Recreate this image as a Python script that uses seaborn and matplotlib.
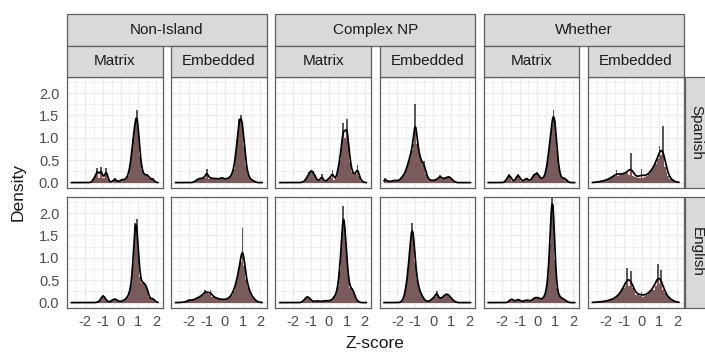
import numpy as np
import matplotlib
matplotlib.use("Agg")
import matplotlib.pyplot as plt
from matplotlib.patches import Rectangle
from matplotlib.ticker import FixedLocator, FixedFormatter
import seaborn as sns

# ---------------- data ----------------
languages = ["Spanish", "English"]
islands = ["Non-Island", "Complex NP", "Whether"]
positions = ["Matrix", "Embedded"]

x_ticks = [-2, -1, 0, 1, 2]
x_tick_labels = ["-2", "-1", "0", "1", "2"]
y_ticks = [0.0, 0.5, 1.0, 1.5, 2.0]
y_tick_labels = ["0.0", "0.5", "1.0", "1.5", "2.0"]

# centres of the histogram bins (z-score)
z_mid = [-2.7, -2.6, -2.5, -2.4, -2.3, -2.2, -2.1, -2.0, -1.9, -1.8,
         -1.7, -1.6, -1.5, -1.4, -1.3, -1.2, -1.1, -1.0, -0.9, -0.8,
         -0.7, -0.6, -0.5, -0.4, -0.3, -0.2, -0.1, 0.0, 0.1, 0.2,
         0.3, 0.4, 0.5, 0.6, 0.7, 0.8, 0.9, 1.0, 1.1, 1.2,
         1.3, 1.4, 1.5, 1.6, 1.7, 1.8, 1.9, 2.0, 2.1]
z_range = [-2.76, 2.10]

# bin heights (density)
es_nonisland_matrix = [0, 0, 0, 0, 0, 0, 0, 0, 0, 0,
                       0, 0.02, 0.10, 0.15, 0.36, 0.12, 0.38, 0.12, 0.12, 0.36,
                       0.08, 0.02, 0.0, 0.06, 0.10, 0.03, 0.02, 0.06, 0.08, 0.06,
                       0.10, 0.15, 0.30, 0.60, 1.05, 1.40, 1.75, 1.30, 0.65, 0.30,
                       0.20, 0.18, 0.20, 0.12, 0.08, 0.10, 0.03, 0, 0]
es_nonisland_embedded = [0, 0, 0, 0, 0, 0, 0, 0, 0, 0,
                         0.02, 0.05, 0.08, 0.10, 0.08, 0.12, 0.10, 0.30, 0.08, 0.12,
                         0.08, 0.10, 0.08, 0.10, 0.06, 0.12, 0.10, 0.08, 0.08, 0.10,
                         0.12, 0.18, 0.30, 0.55, 0.95, 1.40, 1.50, 1.35, 0.80, 0.40,
                         0.18, 0.10, 0.06, 0.04, 0.02, 0, 0, 0, 0]
es_complexnp_matrix = [0, 0, 0, 0, 0, 0, 0, 0, 0, 0,
                       0, 0, 0.01, 0.02, 0.08, 0.15, 0.25, 0.30, 0.28, 0.18,
                       0.08, 0.04, 0.06, 0.20, 0.04, 0.02, 0.06, 0.12, 0.10, 0.32,
                       0.06, 0.10, 0.30, 0.55, 0.85, 1.45, 1.10, 1.55, 0.90, 0.50,
                       0.25, 0.20, 0.20, 0.42, 0.15, 0.05, 0.02, 0, 0]
es_complexnp_embedded = [0.10, 0.05, 0.02, 0.02, 0.04, 0.05, 0.06, 0.03, 0.05, 0.10,
                         0.15, 0.20, 0.30, 0.45, 0.60, 0.75, 0.90, 1.80, 0.90, 0.70,
                         0.55, 0.40, 0.50, 0.20, 0.10, 0.06, 0.05, 0.05, 0.05, 0.08,
                         0.10, 0.18, 0.08, 0.08, 0.12, 0.12, 0.15, 0.10, 0.05, 0.02,
                         0, 0, 0, 0, 0, 0, 0, 0, 0]
es_whether_matrix = [0, 0, 0, 0, 0, 0, 0, 0, 0, 0.03,
                     0.10, 0.20, 0.15, 0.05, 0.03, 0.10, 0.20, 0.15, 0.05, 0.03,
                     0.08, 0.12, 0.05, 0.05, 0.10, 0.20, 0.20, 0.25, 0.15, 0.10,
                     0.10, 0.15, 0.30, 0.60, 1.00, 1.40, 1.75, 1.50, 0.80, 0.35,
                     0.15, 0.10, 0.12, 0.08, 0.03, 0, 0, 0, 0]
es_whether_embedded = [0.0, 0.01, 0.01, 0.02, 0.03, 0.04, 0.05, 0.06, 0.08, 0.10,
                       0.12, 0.15, 0.18, 0.32, 0.18, 0.20, 0.22, 0.25, 0.22, 0.25,
                       0.20, 0.75, 0.18, 0.15, 0.14, 0.12, 0.12, 0.35, 0.12, 0.15,
                       0.18, 0.22, 0.28, 0.35, 0.42, 0.48, 0.60, 0.95, 0.70, 1.45,
                       0.40, 0.28, 0.18, 0.10, 0.06, 0.03, 0.02, 0.01, 0.0]
en_nonisland_matrix = [0, 0, 0, 0, 0, 0, 0, 0, 0, 0,
                       0, 0, 0, 0, 0.01, 0.03, 0.10, 0.18, 0.15, 0.06,
                       0.02, 0.02, 0.05, 0.08, 0.10, 0.06, 0.03, 0.03, 0.04, 0.06,
                       0.10, 0.15, 0.25, 0.45, 1.00, 2.00, 2.10, 1.25, 0.65, 0.50,
                       0.50, 0.45, 0.35, 0.15, 0.08, 0.12, 0.05, 0.02, 0]
en_nonisland_embedded = [0, 0, 0, 0.01, 0.01, 0.02, 0.03, 0.08, 0.05, 0.06,
                         0.08, 0.10, 0.12, 0.15, 0.17, 0.20, 0.32, 0.25, 0.22, 0.32,
                         0.15, 0.14, 0.12, 0.10, 0.09, 0.08, 0.08, 0.08, 0.08, 0.10,
                         0.14, 0.20, 0.30, 0.42, 0.60, 0.85, 1.00, 1.85, 0.90, 0.60,
                         0.40, 0.28, 0.18, 0.12, 0.06, 0.03, 0.01, 0, 0]
en_complexnp_matrix = [0, 0, 0, 0, 0, 0, 0, 0, 0, 0,
                       0, 0, 0.02, 0.06, 0.12, 0.15, 0.12, 0.06, 0.03, 0.03,
                       0.04, 0.04, 0.03, 0.03, 0.04, 0.05, 0.04, 0.04, 0.06, 0.08,
                       0.15, 0.20, 0.40, 0.80, 1.40, 2.35, 1.80, 1.10, 0.55, 0.35,
                       0.35, 0.25, 0.10, 0.04, 0.01, 0, 0, 0, 0]
en_complexnp_embedded = [0, 0, 0, 0, 0, 0, 0, 0, 0, 0.02,
                         0.06, 0.20, 0.45, 0.85, 1.40, 2.05, 1.80, 1.05, 0.60, 0.38,
                         0.25, 0.16, 0.08, 0.04, 0.03, 0.04, 0.08, 0.12, 0.15, 0.30,
                         0.12, 0.10, 0.12, 0.18, 0.22, 0.22, 0.18, 0.12, 0.07, 0.03,
                         0.01, 0, 0, 0, 0, 0, 0, 0, 0]
en_whether_matrix = [0, 0, 0, 0, 0, 0, 0, 0, 0, 0,
                     0, 0.03, 0.08, 0.08, 0.04, 0.04, 0.08, 0.06, 0.03, 0.03,
                     0.05, 0.06, 0.05, 0.04, 0.06, 0.10, 0.12, 0.12, 0.10, 0.08,
                     0.10, 0.15, 0.28, 0.60, 1.40, 2.50, 2.30, 1.00, 0.35, 0.18,
                     0.12, 0.10, 0.08, 0.04, 0.02, 0, 0, 0, 0]
en_whether_embedded = [0.01, 0.01, 0.01, 0.02, 0.02, 0.03, 0.03, 0.04, 0.05, 0.07,
                       0.08, 0.10, 0.12, 0.15, 0.20, 0.25, 0.35, 0.40, 0.45, 0.95,
                       0.45, 0.85, 0.40, 0.30, 0.22, 0.20, 0.18, 0.30, 0.15, 0.18,
                       0.22, 0.28, 0.32, 0.38, 0.35, 0.45, 1.05, 0.50, 0.90, 0.35,
                       0.25, 0.20, 0.15, 0.10, 0.06, 0.04, 0.02, 0.01, 0.0]

panel_data = {
    ("Spanish", "Non-Island", "Matrix"): es_nonisland_matrix,
    ("Spanish", "Non-Island", "Embedded"): es_nonisland_embedded,
    ("Spanish", "Complex NP", "Matrix"): es_complexnp_matrix,
    ("Spanish", "Complex NP", "Embedded"): es_complexnp_embedded,
    ("Spanish", "Whether", "Matrix"): es_whether_matrix,
    ("Spanish", "Whether", "Embedded"): es_whether_embedded,
    ("English", "Non-Island", "Matrix"): en_nonisland_matrix,
    ("English", "Non-Island", "Embedded"): en_nonisland_embedded,
    ("English", "Complex NP", "Matrix"): en_complexnp_matrix,
    ("English", "Complex NP", "Embedded"): en_complexnp_embedded,
    ("English", "Whether", "Matrix"): en_whether_matrix,
    ("English", "Whether", "Embedded"): en_whether_embedded,
}

# kernel bandwidth per panel (smoothing setting)
kde_bandwidth = {
    ("Spanish", "Non-Island", "Matrix"): 0.075,
    ("Spanish", "Non-Island", "Embedded"): 0.08,
    ("Spanish", "Complex NP", "Matrix"): 0.08,
    ("Spanish", "Complex NP", "Embedded"): 0.09,
    ("Spanish", "Whether", "Matrix"): 0.075,
    ("Spanish", "Whether", "Embedded"): 0.16,
    ("English", "Non-Island", "Matrix"): 0.07,
    ("English", "Non-Island", "Embedded"): 0.11,
    ("English", "Complex NP", "Matrix"): 0.07,
    ("English", "Complex NP", "Embedded"): 0.075,
    ("English", "Whether", "Matrix"): 0.065,
    ("English", "Whether", "Embedded"): 0.16,
}

# ---------------- style ----------------
sns.set_theme(style="white")
plt.rcParams["font.family"] = ["Liberation Sans", "DejaVu Sans"]
plt.rcParams["axes.unicode_minus"] = False

W, H = 705, 354
fig = plt.figure(figsize=(W / 100, H / 100), dpi=100)
fig.patch.set_facecolor("white")


def fx(px):
    return px / W


def fy(py):
    return 1 - py / H


col_left = [67 + 104.2 * k for k in range(6)]
panel_w = 95.5
row_top = [77, 197]
panel_h = 110.5

STRIP_FILL = "#D9D9D9"
STRIP_EDGE = "#5f5f5f"
TEXT_DARK = "#1A1A1A"
TICK_TXT = "#4D4D4D"

x_edges = list(np.asarray(z_mid) - 0.05) + [z_mid[-1] + 0.05]

for r, lang in enumerate(languages):
    for c in range(6):
        isl = islands[c // 2]
        pos = positions[c % 2]
        key = (lang, isl, pos)
        vals = np.asarray(panel_data[key], dtype=float)
        x = np.asarray(z_mid, dtype=float)
        ax = fig.add_axes([fx(col_left[c]), fy(row_top[r] + panel_h),
                           panel_w / W, panel_h / H])
        ax.set_facecolor("white")
        # grid
        ax.xaxis.set_major_locator(FixedLocator(x_ticks))
        ax.xaxis.set_minor_locator(FixedLocator([-2.5, -1.5, -0.5, 0.5, 1.5]))
        ax.yaxis.set_major_locator(FixedLocator(y_ticks))
        ax.yaxis.set_minor_locator(FixedLocator([0.25, 0.75, 1.25, 1.75, 2.25]))
        ax.grid(which="major", color="#EBEBEB", linewidth=1.0)
        ax.grid(which="minor", color="#EBEBEB", linewidth=0.55)
        ax.set_axisbelow(True)

        sns.histplot(x=x, weights=vals, bins=x_edges, stat="density",
                     color="#595959", linewidth=0, alpha=1, ax=ax, zorder=2)
        sd = float(np.sqrt(np.cov(x, aweights=vals)))
        kde_kws = dict(x=x, weights=vals, bw_method=kde_bandwidth[key] / sd,
                       clip=z_range, cut=100, ax=ax)
        sns.kdeplot(fill=True, color="#FF6666", alpha=0.2, linewidth=0,
                    zorder=3, **kde_kws)
        sns.kdeplot(fill=False, color="black", linewidth=1.25, zorder=4,
                    **kde_kws)

        ax.set_xlim(-3.0, 2.35)
        ax.set_ylim(-0.11, 2.36)
        ax.set_xlabel("")
        ax.set_ylabel("")
        for s in ax.spines.values():
            s.set_color(STRIP_EDGE)
            s.set_linewidth(0.9)
            s.set_zorder(6)
        ax.tick_params(which="major", length=3, width=0.6, color="#333333",
                       labelsize=10.5, labelcolor=TICK_TXT, pad=2.5)
        ax.tick_params(which="minor", length=0)
        if c == 0:
            ax.yaxis.set_major_formatter(FixedFormatter(y_tick_labels))
        else:
            ax.tick_params(axis="y", which="major", labelleft=False, length=0)
        if r == 1:
            ax.xaxis.set_major_formatter(FixedFormatter(x_tick_labels))
        else:
            ax.tick_params(axis="x", which="major", labelbottom=False, length=0)


def strip(x0, y0, w, h, label, rot=0, size=11, tx=None):
    fig.add_artist(Rectangle((fx(x0), fy(y0 + h)), w / W, h / H,
                             transform=fig.transFigure, facecolor=STRIP_FILL,
                             edgecolor=STRIP_EDGE, linewidth=0.9, zorder=5))
    cx = x0 + w / 2 if tx is None else tx
    fig.text(fx(cx), fy(y0 + h / 2), label, ha="center", va="center",
             rotation=rot, fontsize=size, color=TEXT_DARK, zorder=6)


# top strips (island) and second strips (position)
for k, isl in enumerate(islands):
    x0 = col_left[2 * k]
    x1 = col_left[2 * k + 1] + panel_w
    strip(x0, 14, x1 - x0, 31.5, isl)
for c in range(6):
    strip(col_left[c], 45.5, panel_w, 31.5, positions[c % 2])
# right strips (language)
for r, lang in enumerate(languages):
    strip(685, row_top[r], 30, panel_h, lang, rot=-90, tx=696.5)

fig.text(fx(375), fy(343), "Z-score", ha="center", va="center",
         fontsize=12.5, color=TEXT_DARK)
fig.text(fx(18), fy(192), "Density", ha="center", va="center",
         rotation=90, fontsize=12.5, color=TEXT_DARK)

fig.savefig("out.png", dpi=100, facecolor="white")
